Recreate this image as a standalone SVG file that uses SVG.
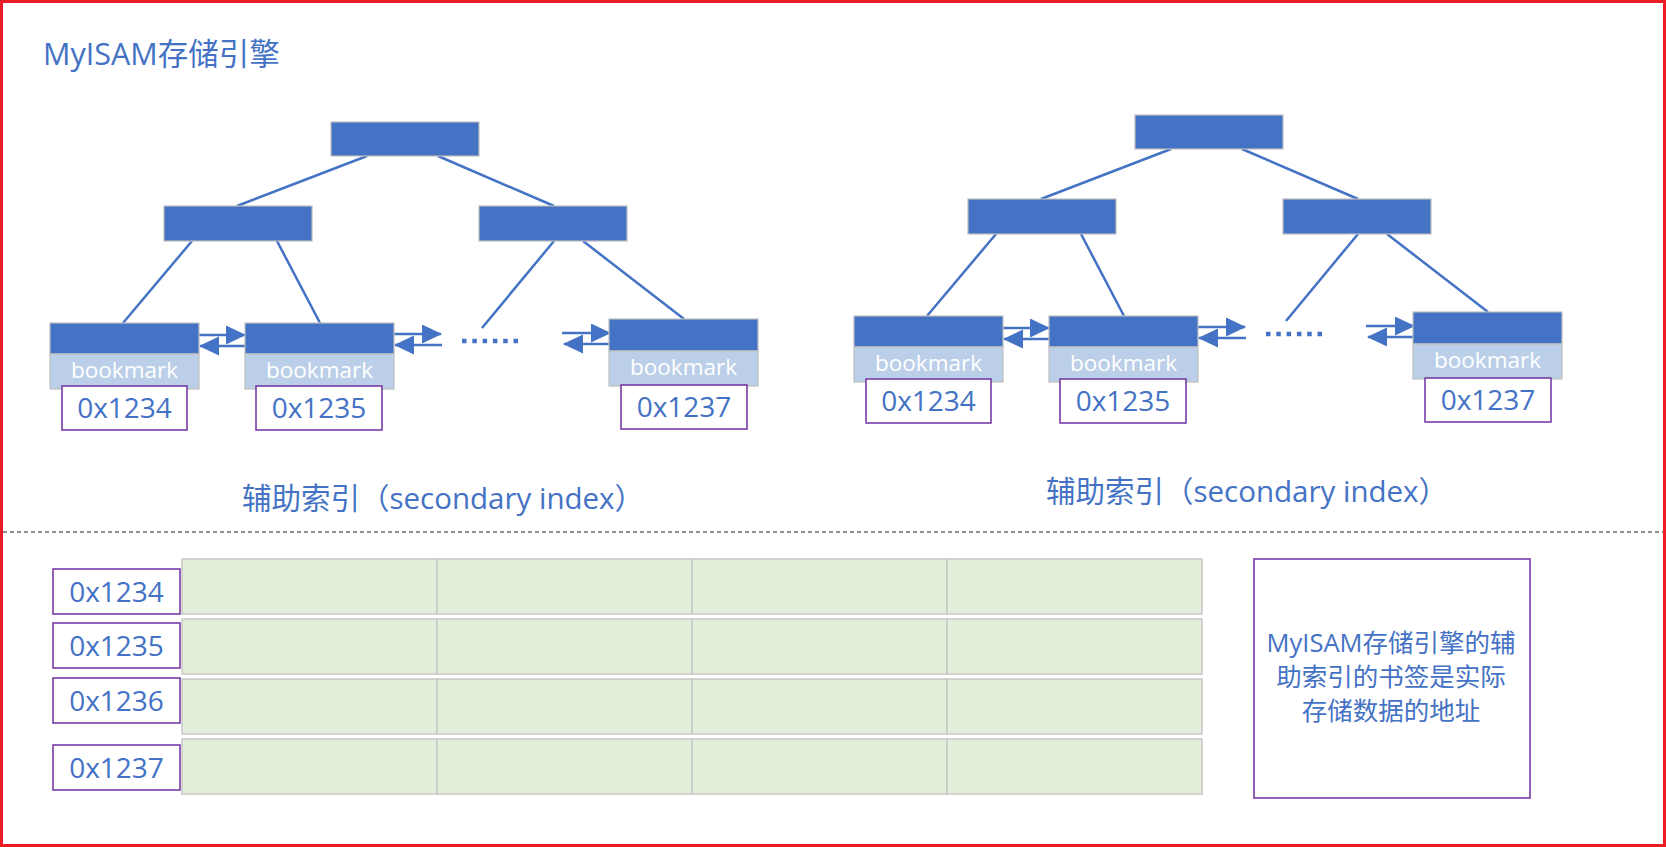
<svg xmlns="http://www.w3.org/2000/svg" width="1666" height="847" viewBox="0 0 1666 847">
<style>
.bg{fill:#ffffff}
.frame{fill:none;stroke:#ED1C24;stroke-width:3}
.node{fill:#4472C4;stroke:#BFBFBF;stroke-width:1.2}
.bm{fill:#BCCFE8;stroke:#BFBFBF;stroke-width:1.2}
.addr{fill:#ffffff;stroke:#7030A0;stroke-width:1.5}
.cell{fill:#E2EFDA;stroke:#C8C8C8;stroke-width:1.5}
.edge{stroke:#4472C4;stroke-width:2.5;fill:none}
.dots{stroke:#4472C4;stroke-width:4.5;stroke-dasharray:4.5 5.8;fill:none}
.t{font-family:"Open Sans","Noto Sans CJK SC",sans-serif;fill:#4472C4}
.bmt{font-family:"Open Sans","Noto Sans CJK SC",sans-serif;fill:#ffffff;font-size:22.5px;text-anchor:middle}
.at{font-size:28px;text-anchor:middle}
.sep{stroke:#222222;stroke-width:1;stroke-dasharray:4 3}
</style>
<defs>
<marker id="ah" markerUnits="userSpaceOnUse" markerWidth="20" markerHeight="20" viewBox="0 0 20 20" refX="19" refY="9.5" orient="auto">
<path d="M0,0 L20,9.5 L0,19 z" fill="#4472C4"/>
</marker>
</defs>
<rect class="bg" x="0" y="0" width="1666" height="847"/>
<rect class="frame" x="1.5" y="1.5" width="1663" height="844"/>
<text class="t" x="43" y="65" font-size="30.5">MyISAM存储引擎</text>

<g id="treeL">
<g id="connectorsL">
<line class="edge" x1="367" y1="156" x2="237" y2="206"/>
<line class="edge" x1="438" y1="156" x2="554" y2="206"/>
<line class="edge" x1="192" y1="241" x2="123" y2="323"/>
<line class="edge" x1="277" y1="241" x2="320" y2="323"/>
<line class="edge" x1="554" y1="241" x2="482" y2="328"/>
<line class="edge" x1="583" y1="241" x2="684" y2="319"/>
<line class="edge" x1="199" y1="335" x2="245" y2="335" marker-end="url(#ah)"/>
<line class="edge" x1="245" y1="346" x2="200" y2="346" marker-end="url(#ah)"/>
<line class="edge" x1="394" y1="334" x2="441" y2="334" marker-end="url(#ah)"/>
<line class="edge" x1="442" y1="345" x2="395" y2="345" marker-end="url(#ah)"/>
<line class="edge" x1="562" y1="333" x2="610" y2="333" marker-end="url(#ah)"/>
<line class="edge" x1="610" y1="344" x2="564" y2="344" marker-end="url(#ah)"/>
<line class="dots" x1="462" y1="341" x2="522" y2="341"/>
</g>
<g id="rootL"><rect class="node" x="331" y="122" width="148" height="34"/></g>
<g id="l2aL"><rect class="node" x="164" y="206" width="148" height="35"/></g>
<g id="l2bL"><rect class="node" x="479" y="206" width="148" height="35"/></g>
<g id="leaf1L"><rect class="node" x="50" y="323" width="149" height="31"/><rect class="bm" x="50" y="354" width="149" height="35"/><text class="bmt" x="124.5" y="378">bookmark</text></g>
<g id="leaf2L"><rect class="node" x="245" y="323" width="149" height="31"/><rect class="bm" x="245" y="354" width="149" height="35"/><text class="bmt" x="319.5" y="378">bookmark</text></g>
<g id="leaf3L"><rect class="node" x="609" y="319" width="149" height="32"/><rect class="bm" x="609" y="351" width="149" height="35"/><text class="bmt" x="683.5" y="375">bookmark</text></g>
<g id="addr1L"><rect class="addr" x="62" y="386" width="125" height="44"/><text class="t at" x="124.5" y="418">0x1234</text></g>
<g id="addr2L"><rect class="addr" x="256" y="386" width="126" height="44"/><text class="t at" x="319" y="418">0x1235</text></g>
<g id="addr3L"><rect class="addr" x="621" y="385" width="126" height="44"/><text class="t at" x="684" y="417">0x1237</text></g>
<text class="t" x="443" y="509" font-size="29.5" text-anchor="middle">辅助索引（secondary index）</text>
</g>

<g id="treeR" transform="translate(804,-7)">
<g id="connectorsR">
<line class="edge" x1="367" y1="156" x2="237" y2="206"/>
<line class="edge" x1="438" y1="156" x2="554" y2="206"/>
<line class="edge" x1="192" y1="241" x2="123" y2="323"/>
<line class="edge" x1="277" y1="241" x2="320" y2="323"/>
<line class="edge" x1="554" y1="241" x2="482" y2="328"/>
<line class="edge" x1="583" y1="241" x2="684" y2="319"/>
<line class="edge" x1="199" y1="335" x2="245" y2="335" marker-end="url(#ah)"/>
<line class="edge" x1="245" y1="346" x2="200" y2="346" marker-end="url(#ah)"/>
<line class="edge" x1="394" y1="334" x2="441" y2="334" marker-end="url(#ah)"/>
<line class="edge" x1="442" y1="345" x2="395" y2="345" marker-end="url(#ah)"/>
<line class="edge" x1="562" y1="333" x2="610" y2="333" marker-end="url(#ah)"/>
<line class="edge" x1="610" y1="344" x2="564" y2="344" marker-end="url(#ah)"/>
<line class="dots" x1="462" y1="341" x2="522" y2="341"/>
</g>
<g id="rootR"><rect class="node" x="331" y="122" width="148" height="34"/></g>
<g id="l2aR"><rect class="node" x="164" y="206" width="148" height="35"/></g>
<g id="l2bR"><rect class="node" x="479" y="206" width="148" height="35"/></g>
<g id="leaf1R"><rect class="node" x="50" y="323" width="149" height="31"/><rect class="bm" x="50" y="354" width="149" height="35"/><text class="bmt" x="124.5" y="378">bookmark</text></g>
<g id="leaf2R"><rect class="node" x="245" y="323" width="149" height="31"/><rect class="bm" x="245" y="354" width="149" height="35"/><text class="bmt" x="319.5" y="378">bookmark</text></g>
<g id="leaf3R"><rect class="node" x="609" y="319" width="149" height="32"/><rect class="bm" x="609" y="351" width="149" height="35"/><text class="bmt" x="683.5" y="375">bookmark</text></g>
<g id="addr1R"><rect class="addr" x="62" y="386" width="125" height="44"/><text class="t at" x="124.5" y="418">0x1234</text></g>
<g id="addr2R"><rect class="addr" x="256" y="386" width="126" height="44"/><text class="t at" x="319" y="418">0x1235</text></g>
<g id="addr3R"><rect class="addr" x="621" y="385" width="126" height="44"/><text class="t at" x="684" y="417">0x1237</text></g>
<text class="t" x="443" y="509" font-size="29.5" text-anchor="middle">辅助索引（secondary index）</text>
</g>

<line class="sep" x1="3" y1="532" x2="1663" y2="532"/>

<g id="table">
<g id="row1"><rect class="cell" x="182" y="559" width="255" height="55"/><rect class="cell" x="437" y="559" width="255" height="55"/><rect class="cell" x="692" y="559" width="255" height="55"/><rect class="cell" x="947" y="559" width="255" height="55"/></g>
<g id="row2"><rect class="cell" x="182" y="619" width="255" height="55"/><rect class="cell" x="437" y="619" width="255" height="55"/><rect class="cell" x="692" y="619" width="255" height="55"/><rect class="cell" x="947" y="619" width="255" height="55"/></g>
<g id="row3"><rect class="cell" x="182" y="679" width="255" height="55"/><rect class="cell" x="437" y="679" width="255" height="55"/><rect class="cell" x="692" y="679" width="255" height="55"/><rect class="cell" x="947" y="679" width="255" height="55"/></g>
<g id="row4"><rect class="cell" x="182" y="739" width="255" height="55"/><rect class="cell" x="437" y="739" width="255" height="55"/><rect class="cell" x="692" y="739" width="255" height="55"/><rect class="cell" x="947" y="739" width="255" height="55"/></g>
</g>
<g id="raddr1"><rect class="addr" x="53" y="569" width="127" height="45"/><text class="t at" x="116.5" y="602">0x1234</text></g>
<g id="raddr2"><rect class="addr" x="53" y="623" width="127" height="45"/><text class="t at" x="116.5" y="656">0x1235</text></g>
<g id="raddr3"><rect class="addr" x="53" y="678" width="127" height="45"/><text class="t at" x="116.5" y="711">0x1236</text></g>
<g id="raddr4"><rect class="addr" x="53" y="745" width="127" height="45"/><text class="t at" x="116.5" y="778">0x1237</text></g>

<g id="note">
<rect class="addr" x="1254" y="559" width="276" height="239"/>
<text class="t" font-size="25.5" text-anchor="middle"><tspan x="1391" y="652">MyISAM存储引擎的辅</tspan><tspan x="1391" y="686">助索引的书签是实际</tspan><tspan x="1391" y="720">存储数据的地址</tspan></text>
</g>
</svg>
